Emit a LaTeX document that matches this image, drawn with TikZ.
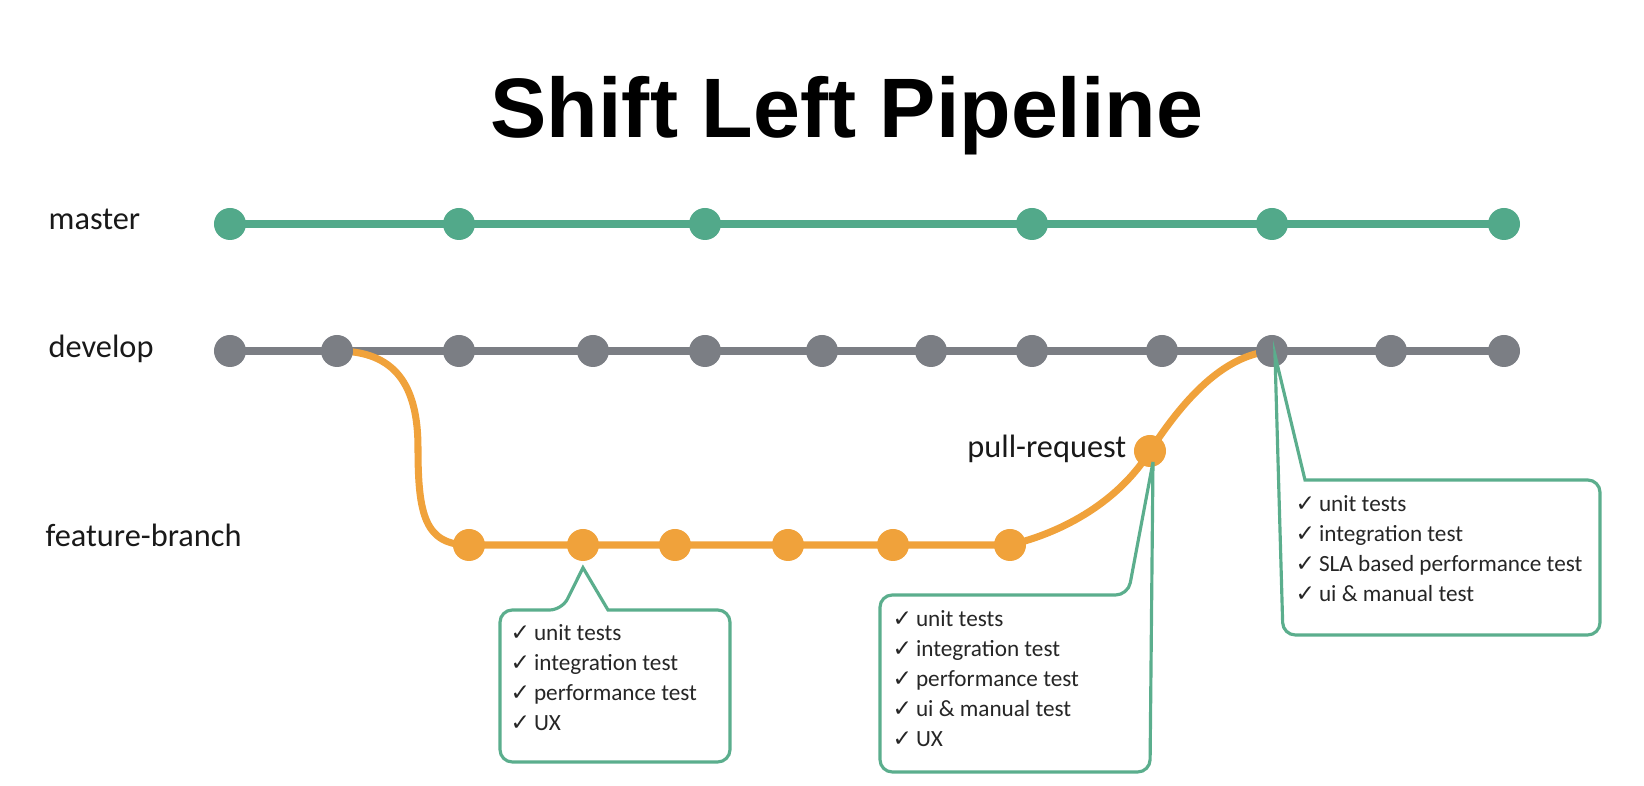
\documentclass[tikz,border=0pt]{standalone}
\usepackage{fontspec}
\setmainfont{Carlito}
\newfontfamily\titlefont{Liberation Sans}
\newfontfamily\symfont{DejaVu Sans}
\usetikzlibrary{positioning,calc,backgrounds}
\definecolor{mastergreen} {HTML}{52A98A}
\definecolor{devgray}     {HTML}{7B7E84}
\definecolor{featorange}  {HTML}{F0A23B}
\definecolor{calloutgreen}{HTML}{5BAE8D}
\newcommand{\ok}{{\symfont\bfseries ✓}\,}

\begin{document}
\begin{tikzpicture}[
  dot/.style={circle,fill=#1,inner sep=0pt,minimum size=0.32cm},
  branch/.style={line width=2pt,color=#1},
  lane/.style={anchor=base west,inner sep=0pt,
               font=\fontsize{9.2}{11}\selectfont,text=black!90},
  checks/.style={anchor=north west,align=left,inner sep=0pt,
                 font=\fontsize{6.6}{8.5}\selectfont,text=black!85},
  callout/.style={draw=calloutgreen,fill=white,line width=0.9pt},
  x=0.01cm,y=-0.01cm
]
\useasboundingbox (0,0) rectangle (1644,786);

\node[font=\titlefont\bfseries\fontsize{24}{28}\selectfont,anchor=base] (title)
  at (847,138) {Shift Left Pipeline};

% lanes
\node[lane] (lmaster) at (48,230) {master};
\node[lane] (ldev)    at (48,358) {develop};
\node[lane] (lfeat)   at (45,547) {feature-branch};

% commits
\foreach \x [count=\i] in {230,459,705,1032,1272,1504}
  \node[dot=mastergreen] (m\i) at (\x,224) {};
\foreach \x [count=\i] in {230,337,459,593,705,822,931,1032,1162,1272,1391,1504}
  \node[dot=devgray] (d\i) at (\x,351) {};
\foreach \x [count=\i] in {469,583,675,788,893,1010}
  \node[dot=featorange] (f\i) at (\x,545) {};
\node[dot=featorange] (pr) at (1150,451) {};
\node[lane,anchor=base east] (lpr) at (1127,458) {pull-request};

% branch lines
\coordinate (bend) at (418,448);
\begin{scope}[on background layer]
\draw[branch=mastergreen] (m1.center) -- (m6.center);
\draw[branch=devgray] (d1.center) -- (d12.center);
\draw[branch=featorange] (d2.center) .. controls (395,351) and (418,385) .. (bend)
  .. controls (418,515) and (425,545) .. (f1.center) -- (f6.center)
  .. controls (1065,532) and (1120,500) .. (pr.center)
  .. controls (1182,402) and (1222,355) .. (d10.center);
\end{scope}

% callouts
\draw[callout] ($(f2.south)+(0,6)$) -- (608,610) [rounded corners=3.5pt]
  -- (730,610) -- (730,762) -- (500,762) -- (500,610) -- (562,610)
  [sharp corners] -- cycle;
\node[checks] (c1) at (510,624)
  {\ok unit tests\\ \ok integration test\\ \ok performance test\\ \ok UX};

\draw[callout] ($(pr.center)+(3,11)$) [rounded corners=3.5pt]
  -- (1150,772) -- (880,772) -- (880,595) -- (1128,595)
  [sharp corners] -- cycle;
\node[checks] (c2) at (892,610)
  {\ok unit tests\\ \ok integration test\\ \ok performance test\\
   \ok ui \& manual test\\ \ok UX};

\draw[callout] ($(d10.center)+(3,4)$) -- (1305,480) [rounded corners=3.5pt]
  -- (1600,480) -- (1600,635) -- (1283,635)
  [sharp corners] -- cycle;
\node[checks] (c3) at (1295,495)
  {\ok unit tests\\ \ok integration test\\ \ok SLA based performance test\\
   \ok ui \& manual test};
\end{tikzpicture}
\end{document}
